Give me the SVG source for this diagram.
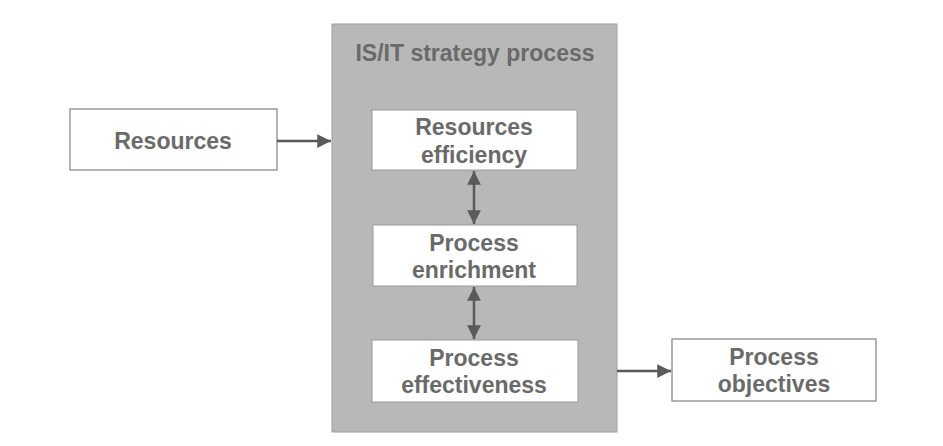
<svg xmlns="http://www.w3.org/2000/svg" width="943" height="446" viewBox="0 0 943 446">
<defs>
<style>
.box{fill:#ffffff;stroke:#8a8a8a;stroke-width:1.3}
.inner{fill:#ffffff;stroke:#9a9a9a;stroke-width:1}
.t{font-family:"Liberation Sans",Arial,sans-serif;font-weight:bold;font-size:23px;fill:#6a6a6a;text-anchor:middle;dominant-baseline:central}
.c{stroke:#5a5a5a;stroke-width:2.5;fill:none}
</style>
<marker id="ah" viewBox="0 0 10 10" refX="10" refY="5" markerWidth="5.5" markerHeight="5.5" orient="auto-start-reverse" markerUnits="strokeWidth">
<path d="M0,0 L10,5 L0,10 z" fill="#5a5a5a"/>
</marker>
</defs>
<rect width="943" height="446" fill="#ffffff"/>
<g id="strategy-process">
<rect x="332" y="24" width="285" height="408" fill="#b8b8b8" stroke="#a0a0a0" stroke-width="1"/>
<text class="t" x="475" y="53">IS/IT strategy process</text>
</g>
<g id="resources">
<rect class="box" x="70" y="109" width="207" height="61"/>
<text class="t" x="173" y="141">Resources</text>
</g>
<g id="resources-efficiency">
<rect class="inner" x="372" y="110" width="205" height="60"/>
<text class="t" x="474" y="127">Resources</text>
<text class="t" x="474" y="155">efficiency</text>
</g>
<g id="process-enrichment">
<rect class="inner" x="373" y="225" width="204" height="61"/>
<text class="t" x="474" y="243">Process</text>
<text class="t" x="474" y="270">enrichment</text>
</g>
<g id="process-effectiveness">
<rect class="inner" x="372" y="340" width="206" height="62"/>
<text class="t" x="474" y="358">Process</text>
<text class="t" x="474" y="385">effectiveness</text>
</g>
<g id="process-objectives">
<rect class="box" x="672" y="339" width="204" height="62"/>
<text class="t" x="774" y="357">Process</text>
<text class="t" x="774" y="384">objectives</text>
</g>
<g id="connectors">
<line class="c" x1="277" y1="141" x2="331" y2="141" marker-end="url(#ah)"/>
<line class="c" x1="474" y1="171" x2="474" y2="224" marker-start="url(#ah)" marker-end="url(#ah)"/>
<line class="c" x1="474" y1="287" x2="474" y2="339" marker-start="url(#ah)" marker-end="url(#ah)"/>
<line class="c" x1="617" y1="371" x2="671" y2="371" marker-end="url(#ah)"/>
</g>
</svg>
